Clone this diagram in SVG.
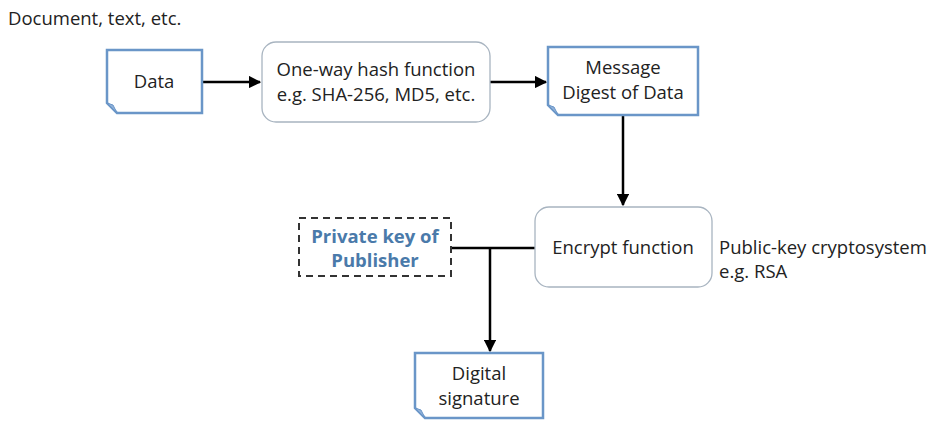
<svg xmlns="http://www.w3.org/2000/svg" width="934" height="423" viewBox="0 0 934 423">
  <defs>
    <marker id="arrow" viewBox="0 0 10 10" refX="9" refY="5" markerWidth="5" markerHeight="5" orient="auto" markerUnits="strokeWidth">
      <path d="M0,0 L10,5 L0,10 Z" fill="#000"/>
    </marker>
    <style>
      text { font-family: "Open Sans", "Liberation Sans", sans-serif; font-size: 18.5px; fill: #222; }
      .c { text-anchor: middle; }
      .doc { fill: #fff; stroke: #6a96c8; stroke-width: 2.5; }
      .fold { fill: #8fb0d8; stroke: #6a96c8; stroke-width: 1; }
      .proc { fill: #fff; stroke: #a8b4c0; stroke-width: 1.3; }
      .key { fill: #fff; stroke: #333; stroke-width: 2; stroke-dasharray: 7 5; }
      .keytext { fill: #4a7aaa; font-weight: bold; }
      .conn { fill: none; stroke: #000; stroke-width: 2.5; }
    </style>
  </defs>
  <rect width="934" height="423" fill="#fff"/>

  <text x="8" y="25">Document, text, etc.</text>

  <g id="connectors">
    <line class="conn" x1="202" y1="82" x2="260" y2="82" marker-end="url(#arrow)"/>
    <line class="conn" x1="490" y1="82" x2="546" y2="82" marker-end="url(#arrow)"/>
    <line class="conn" x1="623" y1="115" x2="623" y2="205" marker-end="url(#arrow)"/>
    <line class="conn" x1="451" y1="248" x2="535" y2="248"/>
    <line class="conn" x1="490" y1="248" x2="490" y2="351" marker-end="url(#arrow)"/>
  </g>

  <g id="data">
    <path class="doc" d="M107,50 H202 V113 H117 L107,103 Z"/>
    <path class="fold" d="M107,103 L117,113 L113,105 Z"/>
    <text class="c" x="154" y="88">Data</text>
  </g>

  <g id="hash">
    <rect class="proc" x="262" y="42" width="228" height="80" rx="14"/>
    <text class="c" x="376" y="76">One-way hash function</text>
    <text class="c" x="376" y="101">e.g. SHA-256, MD5, etc.</text>
  </g>

  <g id="digest">
    <path class="doc" d="M548,47 H698 V115 H558 L548,105 Z"/>
    <path class="fold" d="M548,105 L558,115 L554,107 Z"/>
    <text class="c" x="623" y="74">Message</text>
    <text class="c" x="623" y="99">Digest of Data</text>
  </g>

  <g id="encrypt">
    <rect class="proc" x="535" y="207" width="177" height="80" rx="14"/>
    <text class="c" x="623" y="254">Encrypt function</text>
  </g>

  <g id="cryptosystem-note">
    <text x="719" y="254">Public-key cryptosystem</text>
    <text x="719" y="278">e.g. RSA</text>
  </g>

  <g id="private-key">
    <rect class="key" x="299" y="218" width="152" height="58"/>
    <text class="c keytext" x="375" y="243">Private key of</text>
    <text class="c keytext" x="375" y="267">Publisher</text>
  </g>

  <g id="signature">
    <path class="doc" d="M415,353 H543 V418 H425 L415,408 Z"/>
    <path class="fold" d="M415,408 L425,418 L421,410 Z"/>
    <text class="c" x="479" y="380">Digital</text>
    <text class="c" x="479" y="405">signature</text>
  </g>
</svg>
